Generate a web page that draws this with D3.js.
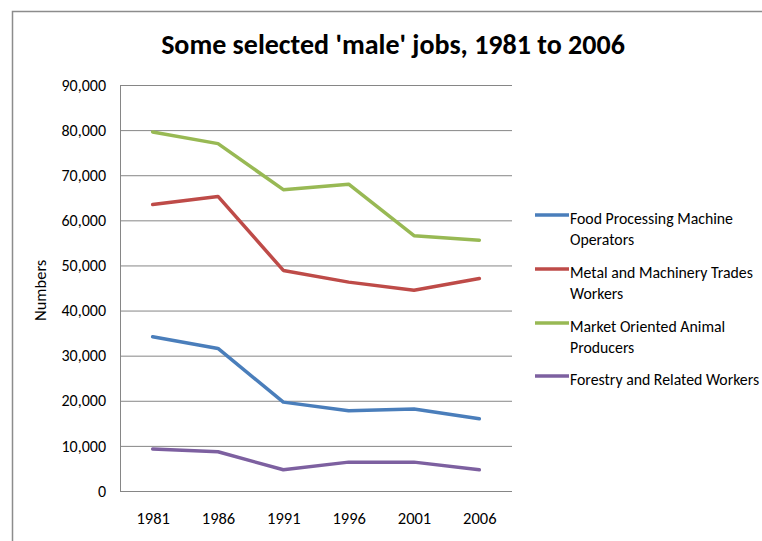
<!DOCTYPE html>
<html>
<head>
<meta charset="utf-8">
<script src="https://cdn.jsdelivr.net/npm/d3@7/dist/d3.min.js"></script>
<style>
  html, body { margin: 0; padding: 0; background: #fff; }
  svg { display: block; }
  text { font-family: Carlito, "Liberation Sans Narrow", "DejaVu Sans Condensed", sans-serif; fill: #000; }
</style>
</head>
<body>
<svg id="chart" width="762" height="541"></svg>
<script>
const years = ["1981", "1986", "1991", "1996", "2001", "2006"];
const seriesNames = [
  "Food Processing Machine Operators",
  "Metal and Machinery Trades Workers",
  "Market Oriented Animal Producers",
  "Forestry and Related Workers"
];
const foodProcessing = [34200, 31600, 19700, 17800, 18200, 16000];
const metalMachinery = [63500, 65300, 48900, 46300, 44500, 47100];
const animalProducers = [79600, 77000, 66800, 68000, 56600, 55600];
const forestry = [9300, 8700, 4700, 6400, 6400, 4700];
const yTicks = [0, 10000, 20000, 30000, 40000, 50000, 60000, 70000, 80000, 90000];
const colors = ["#4A7EBB", "#BE4B48", "#98B954", "#7D60A0"];
const legendLines = [
  ["Food Processing Machine", "Operators"],
  ["Metal and Machinery Trades", "Workers"],
  ["Market Oriented Animal", "Producers"],
  ["Forestry and Related Workers"]
];

const allSeries = [foodProcessing, metalMachinery, animalProducers, forestry];

const svg = d3.select("#chart");

// outer chart frame
svg.append("path")
  .attr("d", "M12.5,545 V11.5 H770")
  .attr("fill", "none")
  .attr("stroke", "#8c8c8c")
  .attr("stroke-width", 1.5);

const plot = { left: 120, right: 512, top: 85, bottom: 491 };

const x = d3.scalePoint().domain(years).range([plot.left, plot.right]).padding(0.5);
const y = d3.scaleLinear().domain([0, 90000]).range([plot.bottom, plot.top]);

// gridlines
const grid = svg.append("g")
  .attr("transform", `translate(${plot.left},0)`)
  .call(d3.axisLeft(y).tickValues(yTicks).tickSize(-(plot.right - plot.left)).tickFormat(""));
grid.select(".domain").remove();
grid.selectAll(".tick line").attr("stroke", "#868686").attr("stroke-width", 1);

// y axis line + labels
const yAxis = svg.append("g")
  .attr("transform", `translate(${plot.left},0)`)
  .call(d3.axisLeft(y).tickValues(yTicks).tickSize(0).tickPadding(14).tickFormat(d3.format(",")));
yAxis.select(".domain").attr("stroke", "#868686").attr("stroke-width", 1);
yAxis.selectAll("text").style("font-size", "16px").attr("fill", "#000");

// x axis labels
const xAxis = svg.append("g")
  .attr("transform", `translate(0,${plot.bottom})`)
  .call(d3.axisBottom(x).tickSize(0).tickPadding(21));
xAxis.select(".domain").attr("stroke", "#868686").attr("stroke-width", 1)
  .attr("d", `M${plot.left},0.5H${plot.right}`);
xAxis.selectAll("text").style("font-size", "16.5px").attr("fill", "#000");

// lines
const line = d3.line().x((d, i) => x(years[i])).y(d => y(d));
allSeries.forEach((s, k) => {
  svg.append("path")
    .datum(s)
    .attr("d", line)
    .attr("fill", "none")
    .attr("stroke", colors[k])
    .attr("stroke-width", 3.5)
    .attr("stroke-linejoin", "round")
    .attr("stroke-linecap", "round");
});

// title
svg.append("text")
  .attr("x", 393)
  .attr("y", 54)
  .attr("text-anchor", "middle")
  .style("font-size", "28px")
  .style("font-weight", "bold")
  .text("Some selected 'male' jobs, 1981 to 2006");

// y label
svg.append("text")
  .attr("transform", "translate(46,321) rotate(-90)")
  .style("font-size", "16.5px")
  .text("Numbers");

// legend
const legendY = [215, 269, 323, 376];
const legend = svg.append("g");
legendLines.forEach((lines, k) => {
  const g = legend.append("g").attr("transform", `translate(0,${legendY[k]})`);
  g.append("line")
    .attr("x1", 535).attr("x2", 569).attr("y1", 0).attr("y2", 0)
    .attr("stroke", colors[k]).attr("stroke-width", 3.5);
  lines.forEach((t, j) => {
    g.append("text")
      .attr("x", 570)
      .attr("y", 3 + j * 21)
      .attr("dy", "0.35em")
      .style("font-size", "15.8px")
      .text(t);
  });
});
</script>
</body>
</html>
